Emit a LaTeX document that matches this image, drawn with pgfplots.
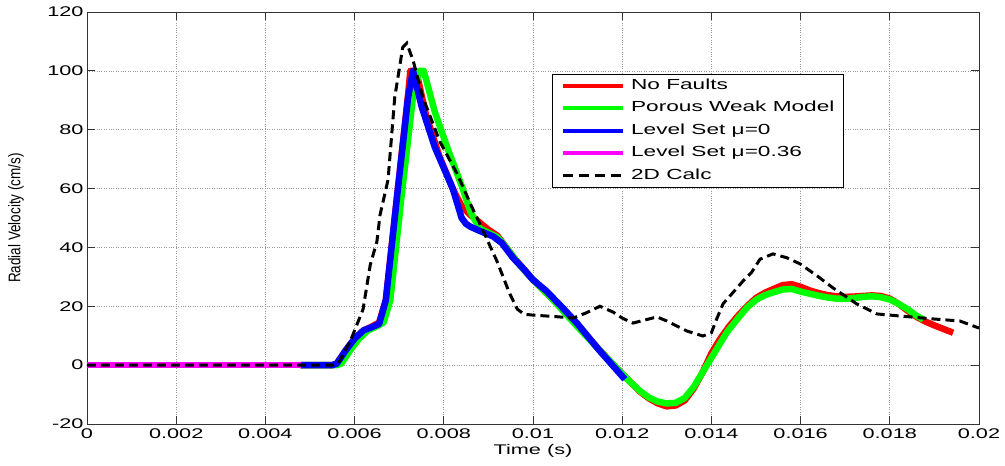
\documentclass[border=0pt]{standalone}
\usepackage{graphicx}
\usepackage{fontspec}
\setmainfont{Liberation Sans}
\newfontfamily\widefont{Liberation Sans}[FakeStretch=1.55]
\newfontfamily\plainfont{Liberation Sans}
\usepackage{pgfplots}
\pgfplotsset{compat=1.18}
\usepackage{pgfplotstable}

\definecolor{mred}{RGB}{255,0,0}
\definecolor{mgreen}{RGB}{0,255,0}
\definecolor{mblue}{RGB}{0,0,255}
\definecolor{mmag}{RGB}{255,0,255}

\pgfplotstableread{
x y
0.0048 0
0.0055 0
0.0056 0.5
0.0058 5
0.0060 9
0.0062 11.8
0.0064 13.2
0.00655 14.5
0.0067 22
0.00695 57
0.0072 92
0.00725 100
0.00738 100
0.0076 85
0.0079 71
0.0082 60
0.0084 54
0.0086 51
0.0088 48.5
0.0090 46
0.0092 44
0.0094 40
0.0096 36
0.0098 32.5
0.0100 29
0.0102 26
0.0104 23
0.0107 18.5
0.0110 13.5
0.0115 5
0.0120 -3
0.0122 -6
0.0124 -9
0.0126 -11.3
0.0128 -13
0.0130 -14
0.0132 -13.7
0.0134 -12
0.0136 -8
0.0138 -2.5
0.0140 4
0.0142 9
0.0144 13.2
0.0146 16.8
0.0148 20
0.0150 22.8
0.0152 24.6
0.0154 25.9
0.0156 27.2
0.0158 27.5
0.0160 26.6
0.0162 25.4
0.0164 24.5
0.0166 23.8
0.0168 23.4
0.0170 23.2
0.0172 23.3
0.0174 23.5
0.0176 23.7
0.0178 23.5
0.0180 22.6
0.0182 20.8
0.0184 18.5
0.0186 16.4
0.0188 14.8
0.0190 13.5
0.01942 11
}\redtab

\pgfplotstableread{
x y
0.0048 0
0.0056 0
0.0057 0.5
0.0059 5
0.0061 9
0.0063 11.8
0.0065 13.2
0.00665 14.5
0.0068 22
0.00705 57
0.0073 90
0.00745 100
0.00755 100
0.0078 86
0.0081 73
0.0084 61
0.0086 52
0.0088 46.5
0.0090 45
0.0092 43.5
0.0094 40
0.0097 34
0.0100 29
0.0102 26
0.0104 23
0.0107 18
0.0110 13
0.0115 5
0.0120 -3
0.0122 -6
0.0124 -8.8
0.0126 -11
0.0128 -12.4
0.0130 -13
0.0132 -12.8
0.0134 -11.2
0.0136 -7.5
0.0138 -2.5
0.0140 2.5
0.0142 7.5
0.01435 11.2
0.0146 16
0.0148 19.6
0.0150 22.2
0.0152 23.8
0.0154 24.8
0.0156 25.7
0.0158 25.9
0.0160 25
0.0162 24.3
0.0164 23.6
0.0166 23
0.0168 22.6
0.0170 22.5
0.0172 22.8
0.0174 23.2
0.0176 23.4
0.0178 23.1
0.0180 22.3
0.0182 20.8
0.0184 19
0.0186 16.8
0.01875 15.5
}\greentab

\pgfplotstableread{
x y
0.00478 0
0.0055 0
0.0056 0.5
0.0058 5
0.0060 9
0.0062 11.8
0.0064 13
0.00655 14
0.0067 22
0.00695 57
0.0072 91
0.00731 100
0.0075 88
0.0078 74
0.0082 60
0.0083 55
0.0084 50
0.0085 48
0.0086 47
0.0089 45
0.0091 43.8
0.0093 41.5
0.00955 36.5
0.0098 32.5
0.0100 29
0.0103 25.2
0.01067 19.4
0.0110 14
0.0115 4.8
0.01206 -4.8
}\bluetab

\pgfplotstableread{
x y
0 0
0.0048 0
}\magtab

\pgfplotstableread{
x y
0 0
0.0055 0
0.00563 0.5
0.0059 8
0.00619 19
0.00635 34
0.0065 42
0.00657 51
0.00675 63
0.0069 91
0.00708 108
0.00717 109.4
0.00731 103.6
0.00753 91
0.00791 76
0.0083 65
0.00859 55
0.00888 45.7
0.00919 35.4
0.00948 24.2
0.00965 19
0.0098 17.3
0.0100 17
0.0105 16.5
0.0109 16
0.0112 17.8
0.0115 20
0.0118 18
0.0120 16
0.01224 14.3
0.0125 15.3
0.01278 16.4
0.0130 15
0.01345 11.6
0.01381 9.9
0.0140 11
0.0141 15
0.01426 20.8
0.01471 28.6
0.0149 31.5
0.01509 36
0.01538 37.8
0.01569 36.5
0.01599 34.4
0.0164 30
0.01673 26.2
0.01726 20.8
0.01771 17.4
0.01823 16.7
0.01897 15.7
0.01957 15
0.0200 12.6
}\blacktab

\begin{document}
\begin{tikzpicture}
\path[use as bounding box] (-87pt,-42pt) rectangle (918pt,424pt);
\begin{axis}[
  scale only axis,
  width=892pt, height=412pt,
  xmin=0, xmax=0.02, ymin=-20, ymax=120,
  xtick={0,0.002,0.004,0.006,0.008,0.01,0.012,0.014,0.016,0.018,0.02},
  xticklabels={0,0.002,0.004,0.006,0.008,0.01,0.012,0.014,0.016,0.018,0.02},
  scaled x ticks=false,
  ytick={-20,0,20,40,60,80,100,120},
  /pgf/number format/assume math mode=true,
  tick label style={font=\widefont\fontsize{14}{16}\selectfont},
  xticklabel style={yshift=-1pt},
  grid=major,
  grid style={dotted, gray!80, line width=0.7pt},
  axis line style={black!80, line width=0.8pt},
  major tick length=8pt,
  tick style={black!80, line width=0.8pt},
  xlabel={\widefont\fontsize{14}{16}\selectfont Time (s)},
  ylabel={\scalebox{1}[1.25]{\plainfont\fontsize{13.5}{15}\selectfont Radial Velocity (cm/s)}},
  xlabel style={at={(axis description cs:0.5,-0.0655)}, anchor=center},
  ylabel style={at={(axis description cs:-0.0796,0.5)}, anchor=center},
  legend style={at={(0.521,0.8495)}, anchor=north west,
    font=\widefont\fontsize{14.6}{16}\selectfont,
    draw=black, line width=0.8pt, inner xsep=9pt, inner ysep=4pt,
    row sep=7.4pt,
    nodes={inner sep=0pt, text height=11pt, text depth=4pt},
    /tikz/every odd column/.append style={column sep=6pt}},
  legend cell align=left,
  legend image code/.code={\draw[#1, line width=4pt] (0pt,0pt) -- (60pt,0pt);},
]
\addplot[mred, line width=6.5pt, line join=round] table[x=x,y=y] {\redtab};
\addlegendentry{No Faults}
\addplot[mgreen, line width=6.5pt, line join=round] table[x=x,y=y] {\greentab};
\addlegendentry{Porous Weak Model}
\addplot[mblue, line width=6.5pt, line join=round] table[x=x,y=y] {\bluetab};
\addlegendentry{Level Set μ=0}
\addplot[mmag, line width=6.5pt] table[x=x,y=y] {\magtab};
\addlegendentry{Level Set μ=0.36}
\addplot[black, line width=3pt, dash pattern=on 9pt off 5pt,
  legend image code/.code={\draw[black, line width=3pt, dash pattern=on 10pt off 6pt] (0pt,0pt) -- (60pt,0pt);}] table[x=x,y=y] {\blacktab};
\addlegendentry{2D Calc}
\end{axis}
\end{tikzpicture}
\end{document}
